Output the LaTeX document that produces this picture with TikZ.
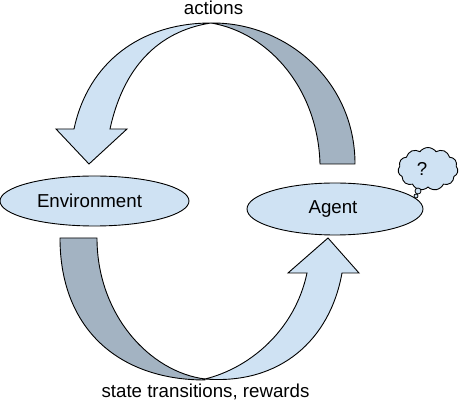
\documentclass[tikz,border=0pt]{standalone}
\usepackage{fontspec}
\setmainfont{Liberation Sans}
\usetikzlibrary{shapes.geometric,shapes.symbols}
\definecolor{lightblue}{HTML}{CFE2F3}
\definecolor{darkband}{HTML}{A3B3C2}
\tikzset{
  blockshape/.style={draw=black,line width=0.9pt,line join=miter,fill=lightblue},
  bandshape/.style={draw=black,line width=0.9pt,line join=miter,fill=darkband},
  stateoval/.style={ellipse,draw=black,line width=0.9pt,fill=lightblue,inner sep=0pt,font=\fontsize{18.7}{21}\selectfont},
  caption/.style={inner sep=0pt,font=\fontsize{18.7}{21}\selectfont},
}
\begin{document}
\begin{tikzpicture}[x=1pt,y=-1pt]
\useasboundingbox (0,0) rectangle (459,401);
% upper band and arrow
\draw[bandshape] (211,23) .. controls (285,22) and (355,80) .. (355,164) -- (320,164)
  .. controls (318,90) and (270,33) .. (211,23) -- cycle;
\draw[blockshape] (211,23) .. controls (140,23) and (88,63) .. (74,129) -- (56,129) -- (89,164) -- (127,129) -- (110,129)
  .. controls (125,60) and (165,30) .. (211,23) -- cycle;
% lower band and arrow
\draw[bandshape] (60,238) .. controls (60,330) and (120,380) .. (205,380) -- (205,379)
  .. controls (150,372) and (97,315) .. (97,238) -- cycle;
\draw[blockshape] (205,379) .. controls (280,385) and (330,340) .. (342,273) -- (359,273) -- (328,238) -- (288,273) -- (307,273)
  .. controls (295,330) and (250,368) .. (205,379) -- cycle;
% nodes
\node[stateoval,minimum width=189pt,minimum height=50pt] (env) at (94.5,201) {\hspace*{-10pt}Environment};
\node[stateoval,minimum width=176pt,minimum height=52pt] (agent) at (335,209) {\hspace*{-4pt}\raisebox{-1pt}{Agent}};
\node[caption] (act) at (213.5,8) {actions};
\node[caption] (str) at (205.5,392) {state transitions, rewards};
\node[cloud,cloud puffs=11,cloud puff arc=110,aspect=1.4,draw=black,line width=0.9pt,fill=lightblue,minimum width=60pt,minimum height=43pt,inner sep=0pt,font=\fontsize{18.7}{21}\selectfont] (think) at (428,169) {\hspace*{-12pt}?};
\node[circle,draw=black,line width=0.8pt,fill=lightblue,minimum size=6pt,inner sep=0pt] (bubA) at (418,191) {};
\node[circle,draw=black,line width=0.8pt,fill=lightblue,minimum size=4pt,inner sep=0pt] (bubB) at (416,196) {};
\end{tikzpicture}
\end{document}
